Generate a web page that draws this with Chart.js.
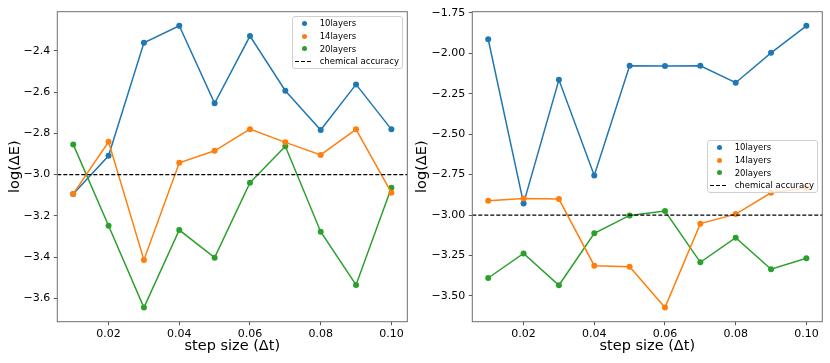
<!DOCTYPE html>
<html>
<head>
<meta charset="utf-8">
<script src="https://cdn.jsdelivr.net/npm/chart.js@4/dist/chart.umd.min.js"></script>
<style>
  html, body { margin: 0; padding: 0; background: #fff; }
  body { width: 830px; height: 363px; position: relative; overflow: hidden; }
  canvas { position: absolute; top: 0; }
  #left-chart  { left: 0; }
  #right-chart { left: 407px; }
  .legend {
    position: absolute;
    width: 111.6px; height: 53.3px;
    box-sizing: border-box;
    background: rgba(255, 255, 255, 0.8);
    border: 1px solid #d0d0d0;
    border-radius: 3px;
    font-family: 'DejaVu Sans', sans-serif;
    font-size: 8.5px;
    color: #000;
  }
  .legend-row { position: absolute; left: 0; height: 12px; line-height: 12px; white-space: nowrap; }
  .legend-dot { position: absolute; left: 9px; top: 3.5px; width: 5px; height: 5px; border-radius: 50%; }
  .legend-dash {
    position: absolute; left: 2.5px; top: 5.5px; width: 17px; height: 1.3px;
    background: repeating-linear-gradient(90deg, #000 0 4px, transparent 4px 6px);
  }
  .legend-text { position: absolute; left: 27px; top: 0; }
</style>
</head>
<body>
<canvas id="left-chart" width="415" height="363"></canvas>
<canvas id="right-chart" width="423" height="363"></canvas>
<div id="left-legend" class="legend" style="left:291.7px; top:16px;"></div>
<div id="right-legend" class="legend" style="left:706.7px; top:140px;"></div>

<script>
// ---------------------------------------------------------------------------
// Data
// ---------------------------------------------------------------------------

const stepSizes = [0.01, 0.02, 0.03, 0.04, 0.05, 0.06, 0.07, 0.08, 0.09, 0.10];
const seriesNames = ['10layers', '14layers', '20layers'];
const chemAccuracyLabel = 'chemical accuracy';
const chemAccuracy = -3.0;

// left panel
const left10 = [-3.094, -2.909, -2.361, -2.279, -2.655, -2.329, -2.594, -2.784, -2.563, -2.781];
const left14 = [-3.094, -2.841, -3.414, -2.943, -2.885, -2.780, -2.844, -2.905, -2.781, -3.088];
const left20 = [-2.854, -3.248, -3.645, -3.269, -3.403, -3.040, -2.863, -3.277, -3.535, -3.064];

// right panel
const right10 = [-1.913, -2.928, -2.164, -2.755, -2.077, -2.079, -2.077, -2.182, -1.997, -1.830];
const right14 = [-2.911, -2.897, -2.901, -3.313, -3.319, -3.572, -3.053, -2.994, -2.862, -2.831];
const right20 = [-3.389, -3.237, -3.434, -3.113, -3.002, -2.975, -3.292, -3.140, -3.335, -3.267];

// tick labels
const xTicks = [0.02, 0.04, 0.06, 0.08, 0.10];
const leftYTicks = [-2.4, -2.6, -2.8, -3.0, -3.2, -3.4, -3.6];
const rightYTicks = [-1.75, -2.00, -2.25, -2.50, -2.75, -3.00, -3.25, -3.50];

// ---------------------------------------------------------------------------
// Styling
// ---------------------------------------------------------------------------

const palette = ['#1f77b4', '#ff7f0e', '#2ca02c'];
const FONT = 'DejaVu Sans';

// matplotlib-like 5% margins around the data
function paddedRange(values, frac = 0.05) {
  const lo = Math.min(...values), hi = Math.max(...values);
  const pad = (hi - lo) * frac;
  return [lo - pad, hi + pad];
}

const fmtMinus = (v, digits) => v.toFixed(digits).replace('-', '\u2212');

// frame around the plot area (all four spines)
const framePlugin = {
  id: 'frame',
  afterDraw(chart) {
    const { ctx, chartArea: a } = chart;
    ctx.save();
    ctx.strokeStyle = '#6e6e6e';
    ctx.lineWidth = 1;
    ctx.strokeRect(a.left, a.top, a.right - a.left, a.bottom - a.top);
    ctx.restore();
  },
};

function makePanel(canvasId, legendId, series, yTicks, yDigits, yAxisWidth, legendRows) {
  const [xMin, xMax] = paddedRange(stepSizes);
  const [yMin, yMax] = paddedRange(series.flat());

  const datasets = series.map((vals, i) => ({
    label: seriesNames[i],
    data: stepSizes.map((x, j) => ({ x, y: vals[j] })),
    borderColor: palette[i],
    backgroundColor: palette[i],
    pointBackgroundColor: palette[i],
    pointBorderWidth: 0,
    pointRadius: 3,
    borderWidth: 1.5,
    tension: 0,
    order: [3, 1, 2][i],
  }));

  datasets.push({
    label: chemAccuracyLabel,
    data: [{ x: xMin, y: chemAccuracy }, { x: xMax, y: chemAccuracy }],
    borderColor: '#000',
    borderWidth: 1.3,
    borderDash: [4, 2],
    pointRadius: 0,
    order: 0,
  });

  const chart = new Chart(document.getElementById(canvasId), {
    type: 'line',
    data: { datasets },
    plugins: [framePlugin],
    options: {
      responsive: false,
      animation: false,
      layout: { padding: { top: 11.7, right: 7.7, left: 0, bottom: 0 } },
      plugins: { legend: { display: false }, tooltip: { enabled: false } },
      scales: {
        x: {
          type: 'linear',
          min: xMin,
          max: xMax,
          afterFit: axis => { axis.height = 41.3; },
          afterBuildTicks: axis => { axis.ticks = xTicks.map(v => ({ value: v })); },
          ticks: {
            color: '#000',
            font: { family: FONT, size: 11 },
            padding: 2.5,
            maxRotation: 0,
            callback: v => v.toFixed(2),
          },
          grid: { drawOnChartArea: false, tickLength: 3.5, tickColor: '#555' },
          border: { display: false },
          title: {
            display: true,
            text: 'step size (\u0394t)',
            color: '#000',
            font: { family: FONT, size: 14.5 },
            padding: { top: 0, bottom: 7.6 },
          },
        },
        y: {
          type: 'linear',
          min: yMin,
          max: yMax,
          afterFit: axis => { axis.width = yAxisWidth; },
          afterBuildTicks: axis => { axis.ticks = yTicks.map(v => ({ value: v })); },
          ticks: {
            color: '#000',
            font: { family: FONT, size: 11 },
            padding: 3.5,
            callback: v => fmtMinus(v, yDigits),
          },
          grid: { drawOnChartArea: false, tickLength: 3.5, tickColor: '#555' },
          border: { display: false },
          title: {
            display: true,
            text: 'log(\u0394E)',
            color: '#000',
            font: { family: FONT, size: 14.5 },
            padding: { top: 6.3, bottom: 0 },
          },
        },
      },
    },
  });

  buildLegend(document.getElementById(legendId), chart.data.datasets, legendRows);
  return chart;
}

// legend box inside the axes, built from the chart's datasets
function buildLegend(el, datasets, rowTops) {
  datasets.forEach((ds, i) => {
    const row = document.createElement('div');
    row.className = 'legend-row';
    row.style.top = rowTops[i] + 'px';
    const mark = document.createElement('span');
    if (ds.borderDash) {
      mark.className = 'legend-dash';
    } else {
      mark.className = 'legend-dot';
      mark.style.background = ds.borderColor;
    }
    const text = document.createElement('span');
    text.className = 'legend-text';
    text.textContent = ds.label;
    row.append(mark, text);
    el.appendChild(row);
  });
}

const legendRowTops = [0.3, 13, 25.7, 38.3];

makePanel('left-chart', 'left-legend', [left10, left14, left20], leftYTicks, 1, 57.3, legendRowTops);
makePanel('right-chart', 'right-legend', [right10, right14, right20], rightYTicks, 2, 65.3, legendRowTops);
</script>
</body>
</html>
